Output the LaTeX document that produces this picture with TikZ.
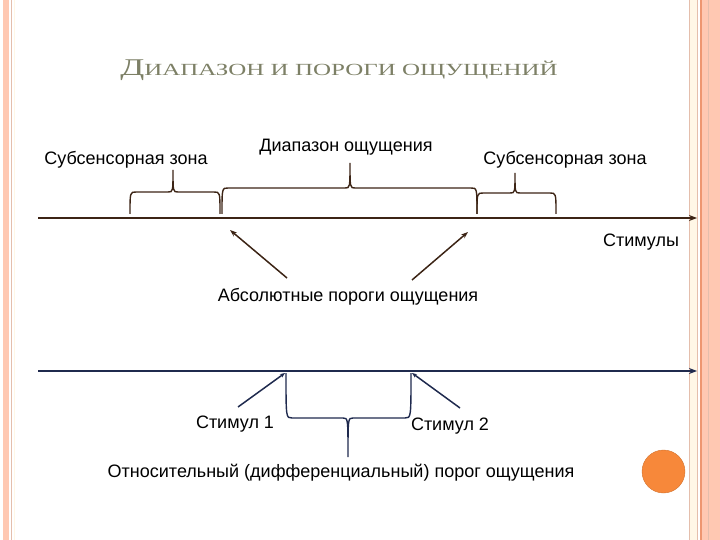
\documentclass[tikz,border=0pt]{standalone}
\usepackage{fontspec}
\usepackage{graphicx}
\setmainfont{Liberation Sans}
\newfontfamily\titlefont{Liberation Serif}
\usetikzlibrary{arrows.meta}

\definecolor{axisbrown}{RGB}{60,36,21}
\definecolor{axisnavy}{RGB}{31,42,78}
\definecolor{titlegray}{RGB}{125,128,102}
\definecolor{framesalmon}{RGB}{255,200,178}
\definecolor{frametan}{RGB}{228,190,172}
\definecolor{framecream}{RGB}{255,247,230}
\definecolor{frameorange}{RGB}{238,150,112}
\definecolor{dotorange}{RGB}{247,136,58}

\tikzset{
  label/.style={inner sep=0pt, font=\fontsize{18}{20}\selectfont},
  axisline/.style={line width=1.7pt, -{Stealth[length=8pt,width=6pt]}},
  bracket/.style={line width=1.4pt},
  pointer/.style={line width=1.5pt, -{Stealth[length=7pt,width=5pt]}}
}

% brace: options, left x, tip x, right x, end y, flat y, tip y
\newcommand{\zonebrace}[7]{%
  \draw[bracket,#1] (#2,#5) .. controls (#2,#6) .. (#2+6,#6) -- (#3-5,#6)
    .. controls (#3,#6) .. (#3,#7) .. controls (#3,#6) .. (#3+5,#6)
    -- (#4-6,#6) .. controls (#4,#6) .. (#4,#5);}

\begin{document}
\begin{tikzpicture}[x=1pt,y=-1pt]
   		\useasboundingbox (0,0) rectangle (720,540);
   		
   		% Frame
   		\fill[framesalmon] (3,0) rectangle (9,540);
   		\draw[frametan, line width=0.8pt] (11,0) -- (11,540);
   		\draw[framecream, line width=1pt] (14,0) -- (14,540);
   		\fill[framecream] (689,0) rectangle (697,540);
   		\draw[frametan, line width=0.8pt] (689,0) -- (689,540);
   		\draw[frametan, line width=0.8pt] (697,0) -- (697,540);
   		\fill[framesalmon] (701,0) rectangle (720,540);
   		\draw[frameorange, line width=1.2pt] (701,0) -- (701,540);
   		\draw[frametan, line width=0.6pt] (708,0) -- (708,540);
   		
   		% Title
   		\node[inner sep=0pt, text=titlegray] (title) at (339,70)
   		   {\titlefont\scalebox{1.47}[1]{\fontsize{24}{26}\selectfont Д\fontsize{17}{18}\selectfont ИАПАЗОН И ПОРОГИ ОЩУЩЕНИЙ}};
   		
   		% Upper axis
   		\coordinate (upA) at (38,218);
   		\coordinate (upB) at (697,218);
   		\draw[axisline, axisbrown] (upA) -- (upB);
   		\node[label] (stimuli) at (641,242) {Стимулы};
   		
   		% Braces and zones
   		\zonebrace{axisbrown}{130}{173}{220}{214}{192}{170}
   		\zonebrace{axisbrown}{222}{350}{477}{214}{188}{163}
   		\zonebrace{axisbrown}{477}{515}{556}{214}{193}{173}
   		\node[label] (subleft) at (126,160) {Субсенсорная зона};
   		\node[label] (range) at (346,147) {Диапазон ощущения};
   		\node[label] (subright) at (565,160) {Субсенсорная зона};
   		
   		% Absolute thresholds
   		\node[label] (absolute) at (348,297) {Абсолютные пороги ощущения};
   		\coordinate (absL) at (287,278);
   		\coordinate (absR) at (412,280);
   		\coordinate (thrL) at (230,230);
   		\coordinate (thrR) at (468,232);
   		\draw[pointer, axisbrown] (absL) -- (thrL);
   		\draw[pointer, axisbrown] (absR) -- (thrR);
   		
   		% Lower axis
   		\coordinate (lowA) at (38,371);
   		\coordinate (lowB) at (697,371);
   		\draw[axisline, axisnavy] (lowA) -- (lowB);
   		
   		% Stimuli and relative threshold
   		\node[label] (stimone) at (235,424) {Стимул 1};
   		\node[label] (stimtwo) at (450,426) {Стимул 2};
   		\coordinate (oneTail) at (238,407);
   		\coordinate (oneTip) at (285,373);
   		\coordinate (twoTail) at (460,408);
   		\coordinate (twoTip) at (412,373);
   		\draw[pointer, axisnavy, -{Stealth[length=5pt,width=4pt]}] (oneTail) -- (oneTip);
   		\draw[pointer, axisnavy, -{Stealth[length=5pt,width=4pt]}] (twoTail) -- (twoTip);
   		\zonebrace{axisnavy}{286}{348}{411}{373}{418}{457}
   		\node[label] (relative) at (341,473) {Относительный (дифференциальный) порог ощущения};
   		
   		% Orange dot
   		\fill[dotorange, draw=dotorange!85!black] (663.5,471.5) circle[radius=21.5];
   		
   	\end{tikzpicture}
\end{document}
